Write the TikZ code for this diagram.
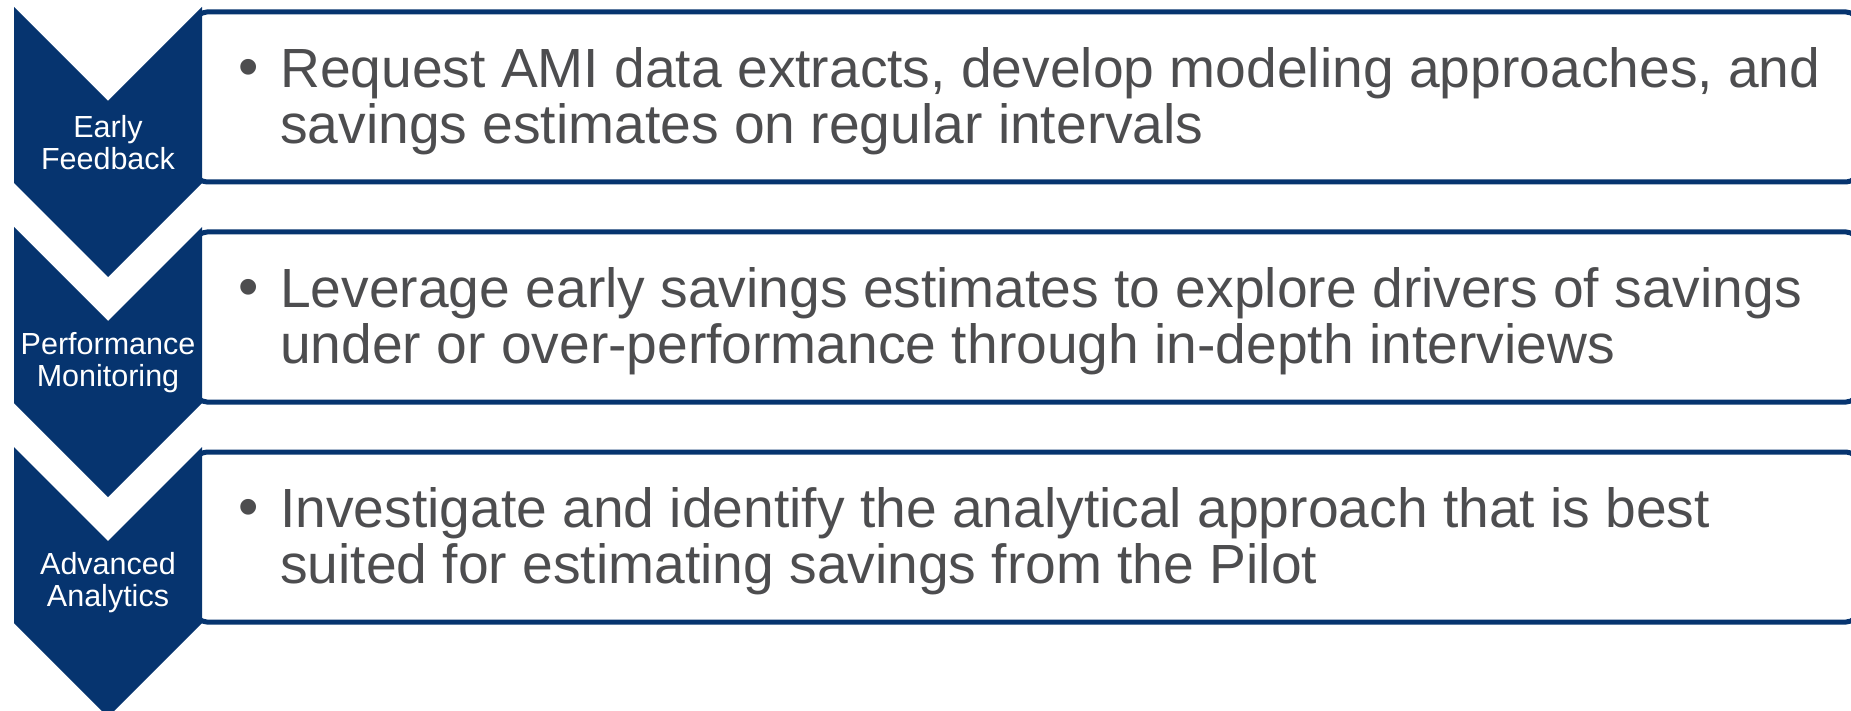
\documentclass[tikz,border=0pt]{standalone}
\usepackage{fontspec}
\setmainfont{Liberation Sans}
\definecolor{navy}{HTML}{06346F}
\definecolor{txtgray}{HTML}{4D4D4F}
\tikzset{
  chevron/.style={fill=navy},
  stagebox/.style={draw=navy, line width=5pt, rounded corners=12pt},
  stagelabel/.style={text=white, align=center, inner sep=0pt,
    font=\fontsize{30.5}{32}\selectfont},
  stagetext/.style={text=txtgray, align=left, anchor=west, inner sep=0pt,
    font=\fontsize{55.2}{56}\selectfont},
}
\newcommand{\bul}{\makebox[42pt][l]{\raisebox{1pt}{\fontsize{58}{58}\selectfont\textbullet}}}
\begin{document}
\begin{tikzpicture}[x=1pt,y=-1pt]

  \useasboundingbox (0,0) rectangle (1851,711);
  \foreach \i/\lab/\first/\second in {%
      0/{Early\\Feedback}/{Request AMI data extracts, develop modeling approaches, and}/{savings estimates on regular intervals},
      1/{Performance\\Monitoring}/{Leverage early savings estimates to explore drivers of savings}/{under or over-performance through in-depth interviews},
      2/{Advanced\\Analytics}/{Investigate and identify the analytical approach that is best}/{suited for estimating savings from the Pilot}}{%
    \pgfmathsetmacro{\yT}{7+220*\i}% top corners of the chevron
    % box first, its left side hides under the chevron
    \draw[stagebox] (195,\yT+5) rectangle (1858,\yT+175);
    \fill[chevron] (14,\yT) -- (108,\yT+94) -- (202,\yT) -- (202,\yT+176)
      -- (108,\yT+270) -- (14,\yT+176) -- cycle;
    \node[stagelabel] (lab\i) at (108,\yT+136) {\lab};
    \node[stagetext] (txt\i) at (238,\yT+94) {\bul\first\\\hspace*{42pt}\second};
  }

\end{tikzpicture}
\end{document}
